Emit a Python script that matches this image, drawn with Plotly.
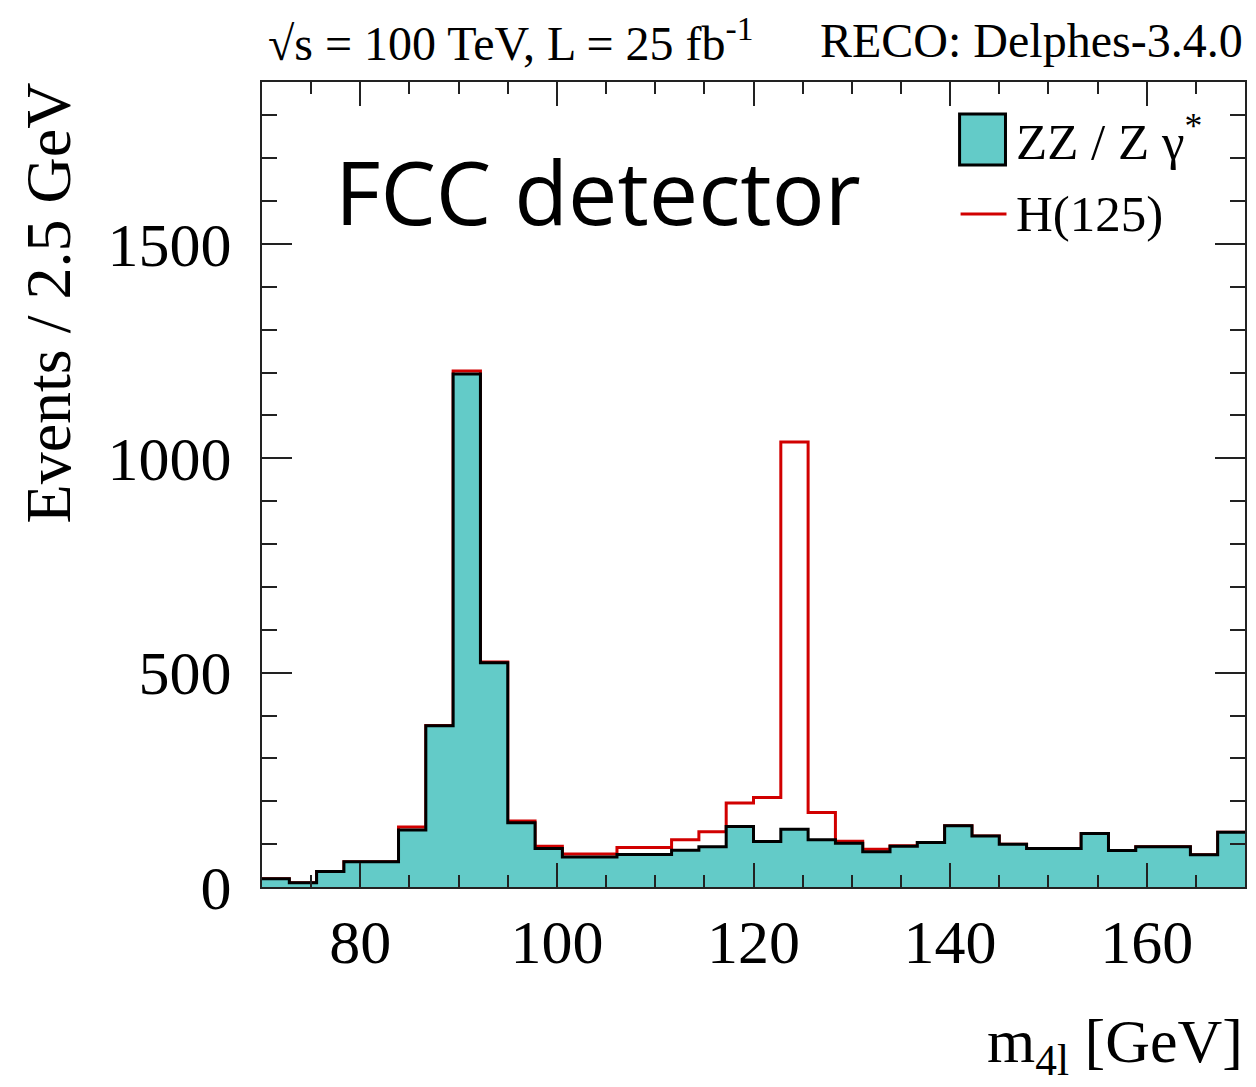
import numpy as np
import plotly.graph_objects as go

# ---- data (36 bins, 70-170 GeV) ----
x_min, x_max, n_bins = 70.0, 170.0, 36
zz_counts = [19, 10, 36, 59, 59, 133, 376, 1197, 523, 150, 90, 70, 70, 76, 76, 86, 94, 141,
             106, 135, 110, 102, 82, 95, 104, 143, 119, 100, 90, 90, 125, 85, 94, 94, 75, 128]
h_counts = [0, 0, 0, 0, 0, 7, 1, 7, 2, 4, 5, 7, 7, 16, 16, 24, 35, 55,
            103, 903, 64, 5, 6, 1, 0, 0, 0, 0, 0, 0, 0, 0, 0, 0, 0, 0]
x_ticks = [80, 100, 120, 140, 160]
y_ticks = [0, 500, 1000, 1500]
y_max = 1878

edges = np.linspace(x_min, x_max, n_bins + 1)
zz = np.array(zz_counts, dtype=float)
tot = zz + np.array(h_counts, dtype=float)

TEAL = "#63cbc8"
RED = "#d10000"
SERIF = "Liberation Serif, Times New Roman, serif"

# plot area in pixels
L, R, T, B = 262, 1247, 82, 887
W, H = 1256, 1087

fig = go.Figure()
# stacked total (ZZ + H) outline
fig.add_trace(go.Scatter(x=edges, y=np.append(tot, tot[-1]), mode="lines",
                         line=dict(shape="hv", color=RED, width=3),
                         showlegend=False, hoverinfo="skip"))
# ZZ / Z gamma* filled histogram
fig.add_trace(go.Scatter(x=edges, y=np.append(zz, zz[-1]), mode="lines",
                         line=dict(shape="hv", color="black", width=3),
                         fill="tozeroy", fillcolor=TEAL,
                         showlegend=False, hoverinfo="skip"))
# invisible trace for mirrored axes
fig.add_trace(go.Scatter(x=[x_min], y=[0], xaxis="x2", yaxis="y2", mode="markers",
                         marker=dict(opacity=0), showlegend=False, hoverinfo="skip"))

axcol = "#222222"
fig.update_layout(
    width=W, height=H,
    margin=dict(l=L, r=W - R, t=T, b=H - B),
    paper_bgcolor="white", plot_bgcolor="white",
    showlegend=False,
    xaxis=dict(range=[x_min, x_max], tickvals=x_ticks, ticks="inside", ticklen=24,
               tickwidth=2, tickcolor=axcol, showgrid=False, zeroline=False,
               showline=True, linewidth=2, linecolor=axcol, mirror=True,
               tickfont=dict(family=SERIF, size=62, color="black"),
               ticklabelstandoff=0,
               minor=dict(dtick=5, ticks="inside", ticklen=12, tickwidth=2,
                          tickcolor=axcol, showgrid=False)),
    yaxis=dict(range=[0, y_max], tickvals=y_ticks, ticks="inside", ticklen=30,
               tickwidth=2, tickcolor=axcol, showgrid=False, zeroline=False,
               showline=True, linewidth=2, linecolor=axcol, mirror=True,
               tickfont=dict(family=SERIF, size=62, color="black"),
               ticklabelstandoff=16,
               minor=dict(dtick=100, ticks="inside", ticklen=15, tickwidth=2,
                          tickcolor=axcol, showgrid=False)),
    xaxis2=dict(range=[x_min, x_max], overlaying="x", side="top", anchor="y",
                tickvals=x_ticks, ticks="inside", ticklen=24, tickwidth=2, tickcolor=axcol,
                showticklabels=False, showgrid=False, zeroline=False,
                minor=dict(dtick=5, ticks="inside", ticklen=12, tickwidth=2,
                           tickcolor=axcol, showgrid=False)),
    yaxis2=dict(range=[0, y_max], overlaying="y", side="right", anchor="x",
                tickvals=y_ticks, ticks="inside", ticklen=30, tickwidth=2, tickcolor=axcol,
                showticklabels=False, showgrid=False, zeroline=False,
                minor=dict(dtick=100, ticks="inside", ticklen=15, tickwidth=2,
                           tickcolor=axcol, showgrid=False)),
)

def px_x(p):
    return (p - L) / float(R - L)

def px_y(p):
    return (B - p) / float(B - T)

annots = [
    dict(text="√s = 100 TeV, L = 25 fb<sup>-1</sup>", x=px_x(266), y=px_y(40),
         xanchor="left", yanchor="middle", font=dict(family=SERIF, size=48)),
    dict(text="RECO: Delphes-3.4.0", x=px_x(1247), y=px_y(40),
         xanchor="right", yanchor="middle", font=dict(family=SERIF, size=48)),
    dict(text="FCC detector", x=px_x(333), y=px_y(191),
         xanchor="left", yanchor="middle", font=dict(family="Open Sans, sans-serif", size=88)),
    dict(text="ZZ / Z γ<sup>*</sup>", x=px_x(1016), y=px_y(138),
         xanchor="left", yanchor="middle", font=dict(family=SERIF, size=51)),
    dict(text="H(125)", x=px_x(1016), y=px_y(214),
         xanchor="left", yanchor="middle", font=dict(family=SERIF, size=51)),
    dict(text="Events / 2.5 GeV", x=px_x(48), y=px_y(303), textangle=-90,
         xanchor="center", yanchor="middle", font=dict(family=SERIF, size=64)),
    dict(text="m<sub>4l</sub> [GeV]", x=px_x(1247), y=px_y(1045),
         xanchor="right", yanchor="middle", font=dict(family=SERIF, size=62)),
]
for a in annots:
    a.update(xref="paper", yref="paper", showarrow=False)
    a["font"]["color"] = "black"
fig.update_layout(annotations=annots)

shapes = [
    dict(type="rect", xref="paper", yref="paper",
         x0=px_x(961), x1=px_x(1007), y0=px_y(165), y1=px_y(114),
         fillcolor=TEAL, line=dict(color="black", width=3)),
    dict(type="line", xref="paper", yref="paper",
         x0=px_x(962), x1=px_x(1008), y0=px_y(214), y1=px_y(214),
         line=dict(color=RED, width=3)),
]
fig.update_layout(shapes=shapes)

fig.write_html("out.html")
